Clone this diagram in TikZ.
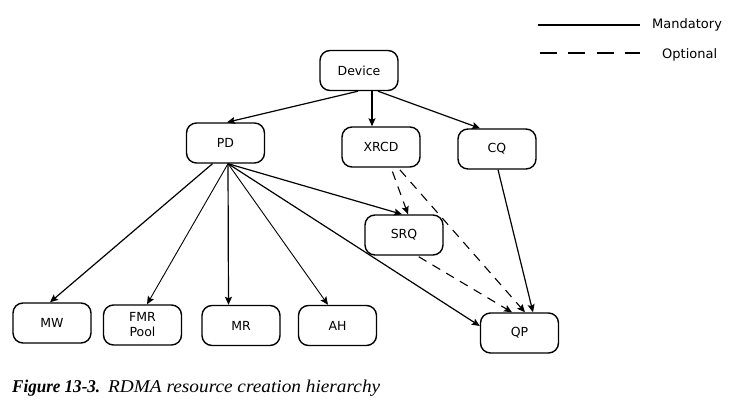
\documentclass[tikz,border=0pt]{standalone}
\usepackage{fontspec}
\usepackage{graphicx}
\newfontfamily\diagfont{DejaVu Sans}
\newfontfamily\capfont{Liberation Serif}
\usetikzlibrary{arrows.meta}
\begin{document}
\begin{tikzpicture}[x=1pt,y=1pt,
  box/.style={draw, line width=1.4pt, rounded corners=10pt, minimum width=78pt, minimum height=40pt, inner sep=0pt, align=center, font=\diagfont\fontsize{12.5}{15}\selectfont},
  arr/.style={line width=1.2pt, -{Stealth[length=8pt,width=7pt,inset=1.5pt]}},
  thinarr/.style={arr, line width=0.9pt},
  optarr/.style={arr, line width=1.1pt, dash pattern=on 9pt off 7pt},
  legtext/.style={font=\diagfont\fontsize{13}{15}\selectfont, anchor=base west, inner sep=0pt}
]
\useasboundingbox (0,0) rectangle (731,407);
% nodes
\node[box] (Device) at (359,336.5) {Device};
\node[box] (PD) at (225.5,264) {PD};
\node[box] (XRCD) at (381,260) {XRCD};
\node[box] (CQ) at (497,258) {CQ};
\node[box] (SRQ) at (404,172) {SRQ};
\node[box] (MW) at (52,84) {MW};
\node[box] (FMR) at (142.5,82) {FMR\\Pool};
\node[box] (MR) at (241,81.5) {MR};
\node[box] (AH) at (337.5,81.5) {AH};
\node[box] (QP) at (519.5,74) {QP};
% connectors
\draw[arr] ([xshift=-1pt]Device.south) -- ([xshift=1.5pt]PD.north);
\draw[arr] ([xshift=13pt]Device.south) -- ([xshift=-9pt]XRCD.north);
\draw[arr] ([xshift=19pt]Device.south) -- ([xshift=-17pt]CQ.north);
\draw[arr] ([xshift=-13pt]PD.south) -- ([xshift=-2pt]MW.north);
\draw[thinarr] ([xshift=2.5pt]PD.south) -- ([xshift=4.5pt]FMR.north);
\draw[arr] ([xshift=2.5pt]PD.south) -- ([xshift=-12.5pt]MR.north);
\draw[thinarr] ([xshift=2.5pt]PD.south) -- ([xshift=-9.5pt]AH.north);
\draw[arr] ([xshift=2.5pt]PD.south) -- ([xshift=-2pt]SRQ.north);
\draw[arr] ([xshift=2.5pt]PD.south) -- ([yshift=7pt]QP.west);
\draw[optarr, shorten <=4pt] ([xshift=10pt]XRCD.south) -- ([xshift=4pt]SRQ.north);
\draw[optarr, shorten <=3pt] ([xshift=17pt]XRCD.south) -- ([xshift=5.5pt]QP.north);
\draw[optarr, shorten <=2pt] ([xshift=13pt]SRQ.south) -- ([xshift=-7.5pt]QP.north);
\draw[arr] ([xshift=1pt]CQ.south) -- ([xshift=13.5pt]QP.north);
% legend
\coordinate (m1) at (538,382);
\coordinate (m2) at (640,382);
\coordinate (o1) at (540,354);
\coordinate (o2) at (640,354);
\draw[line width=1.3pt] (m1) -- (m2);
\draw[line width=1.3pt, dash pattern=on 17pt off 11.3pt] (o1) -- (o2);
\node[legtext] (mand) at (652,378) {Mandatory};
\node[legtext] (opt) at (662,348) {Optional};
% caption
\node[anchor=base west, inner sep=0pt, font=\capfont\fontsize{18}{21}\selectfont] (cap) at (12,14)
  {\resizebox{88pt}{\height}{\bfseries\itshape Figure 13-3.}\hspace{8pt}\resizebox{272pt}{\height}{\itshape RDMA resource creation hierarchy}};
\end{tikzpicture}
\end{document}
